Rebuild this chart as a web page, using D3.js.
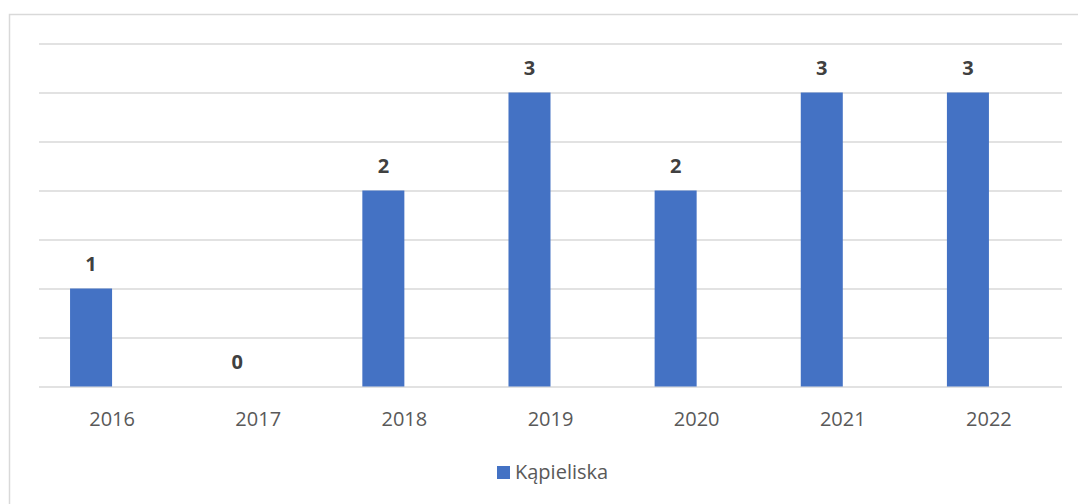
<!DOCTYPE html>
<html>
<head>
<meta charset="utf-8">
<script src="https://cdn.jsdelivr.net/npm/d3@7"></script>
<style>
  body { margin: 0; background: #fff; }
  svg { display: block; font-family: "Open Sans", "Liberation Sans", sans-serif; }
</style>
</head>
<body>
<svg></svg>
<script>
// Data
var years = ["2016", "2017", "2018", "2019", "2020", "2021", "2022"];
var kapieliska = [1, 0, 2, 3, 2, 3, 3];
var seriesNames = ["Kąpieliska", ""];   // second slot is empty in the original
var yTicks = [0, 0.5, 1, 1.5, 2, 2.5, 3, 3.5];

// SVG
var width = 1078;
var height = 504;
var plotLeft = 39, plotRight = 1062, plotTop = 43.5, plotBottom = 386.5;

var svg = d3.select("svg")
    .attr("width", width)
    .attr("height", height);

// chart frame (runs off the page on the right and bottom)
svg.append("rect")
    .attr("x", 9.5)
    .attr("y", 14.5)
    .attr("width", width)
    .attr("height", height)
    .attr("fill", "none")
    .attr("stroke", "#d9d9d9")
    .attr("stroke-width", 1.5);

// Scales
var xScale = d3.scaleBand()
    .domain(years)
    .range([plotLeft, plotRight])
    .paddingInner(0.425)
    .paddingOuter(0.2125);

var xSub = d3.scaleBand()
    .domain(seriesNames)
    .range([0, xScale.bandwidth()]);

var yScale = d3.scaleLinear()
    .domain([0, 3.5])
    .range([plotBottom, plotTop]);

// gridlines
var yAxis = d3.axisLeft(yScale)
    .tickValues(yTicks)
    .tickSize(-(plotRight - plotLeft))
    .tickFormat("");

svg.append("g")
    .attr("transform", "translate(" + plotLeft + ",0)")
    .call(yAxis)
    .call(g => g.select(".domain").remove())
    .call(g => g.selectAll("line")
        .attr("stroke", "#d9d9d9")
        .attr("stroke-width", 1.5));

// x axis labels
var xAxis = d3.axisBottom(d3.scaleBand().domain(years).range([plotLeft, plotRight]))
    .tickSize(0)
    .tickPadding(0);

svg.append("g")
    .attr("transform", "translate(0," + plotBottom + ")")
    .call(xAxis)
    .call(g => g.select(".domain").remove())
    .call(g => g.selectAll("text")
        .attr("dy", null)
        .attr("y", 39)
        .attr("fill", "#595959")
        .style("font-size", "20px")
        .style("font-family", "'Open Sans', sans-serif"));

// bars
var data = years.map((y, i) => ({ year: y, value: kapieliska[i] }));

svg.append("g")
    .selectAll("rect")
    .data(data)
    .join("rect")
    .attr("x", d => xScale(d.year) + xSub(seriesNames[0]))
    .attr("y", d => yScale(d.value))
    .attr("width", xSub.bandwidth())
    .attr("height", d => yScale(0) - yScale(d.value))
    .attr("fill", "#4472c4");

// value labels
svg.append("g")
    .selectAll("text")
    .data(data)
    .join("text")
    .attr("x", d => xScale(d.year) + xSub(seriesNames[0]) + xSub.bandwidth() / 2)
    .attr("y", d => yScale(d.value) - 18)
    .attr("text-anchor", "middle")
    .attr("fill", "#404040")
    .style("font-size", "20px")
    .style("font-weight", "bold")
    .text(d => d.value);

// legend
var legend = svg.append("g")
    .attr("transform", "translate(497,466)");

legend.append("rect")
    .attr("width", 13)
    .attr("height", 13)
    .attr("fill", "#4472c4");

legend.append("text")
    .attr("x", 18)
    .attr("y", 13)
    .attr("fill", "#595959")
    .style("font-size", "20px")
    .text(seriesNames[0]);
</script>
</body>
</html>
